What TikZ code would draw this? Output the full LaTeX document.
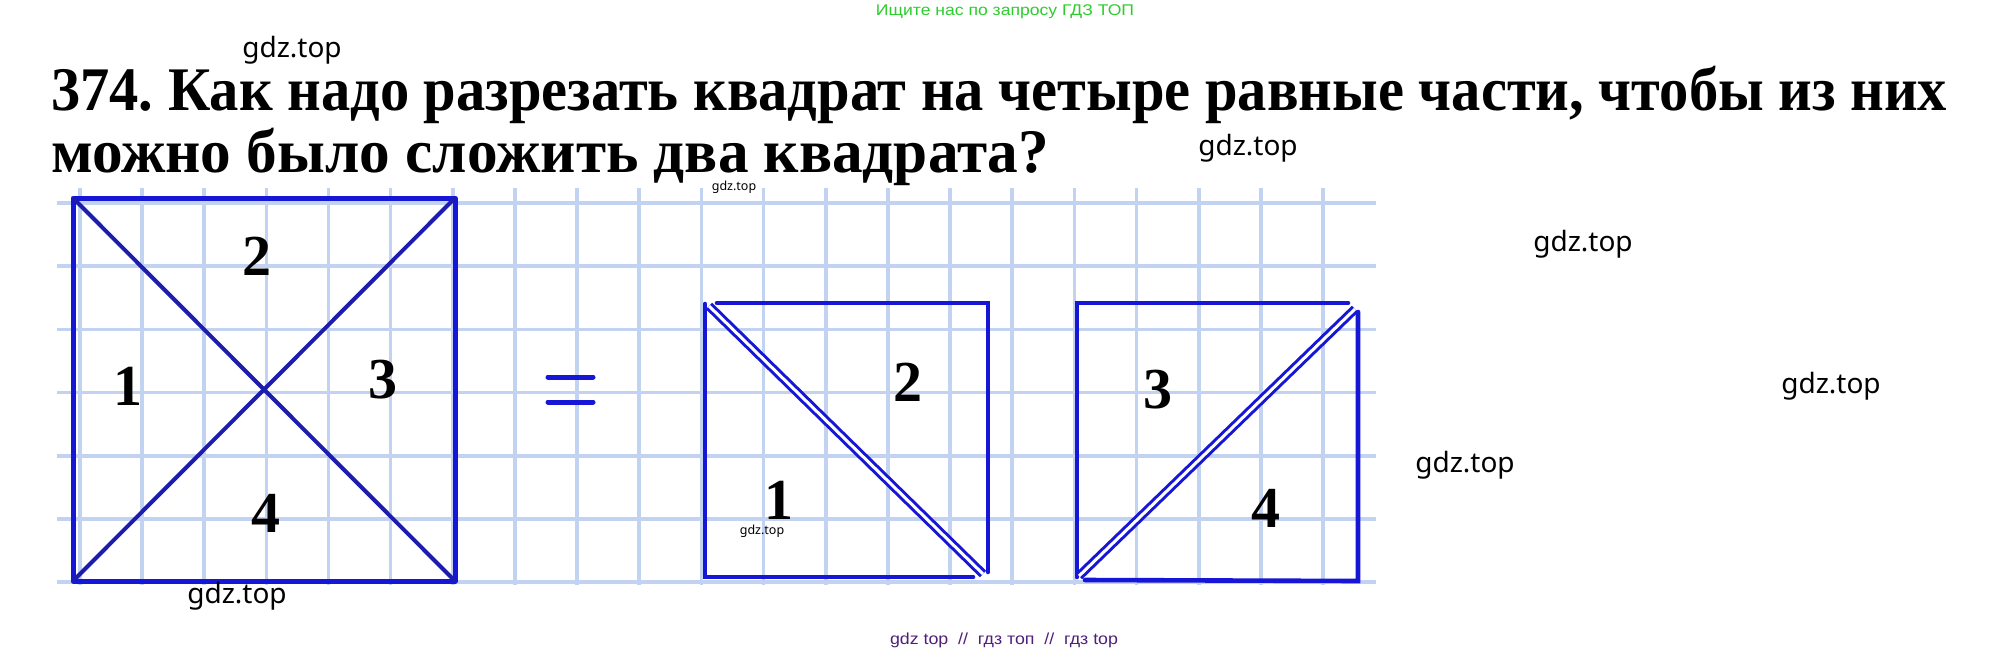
\documentclass[tikz,border=0pt]{standalone}
\usepackage{graphicx}
\usepackage{fontspec}
\setmainfont{Liberation Serif}
\newfontfamily\wmfont{Noto Sans}
\newfontfamily\adfont{Liberation Sans}
\frenchspacing

\definecolor{cellblue}{RGB}{194,211,242}
\definecolor{penblue}{RGB}{22,22,214}
\definecolor{inkblue}{RGB}{28,28,175}
\definecolor{adgreen}{RGB}{45,205,45}
\definecolor{adpurple}{RGB}{78,32,122}

\tikzset{
  cell/.style={draw=cellblue,line width=3.6pt},
  side/.style={draw=penblue,line width=5pt,line cap=round,line join=round},
  edge/.style={draw=penblue,line width=4.6pt,line cap=round},
  cut/.style={draw=inkblue,line width=4pt},
  seam/.style={draw=penblue,line width=3pt,double=white,double distance=3pt},
  num/.style={font=\bfseries\fontsize{58}{58}\selectfont,inner sep=0pt},
  head/.style={font=\bfseries\fontsize{62}{62}\selectfont,inner sep=0pt,anchor=base west},
  wm/.style={font=\wmfont\fontsize{28}{28}\selectfont,inner sep=0pt},
  wmsmall/.style={font=\wmfont\fontsize{12.5}{12.5}\selectfont,inner sep=0pt},
}

\begin{document}
\begin{tikzpicture}[x=1pt,y=-1pt]
  \useasboundingbox (0,0) rectangle (2011,654);
  \fill[white] (0,0) rectangle (2011,654);

  % squared paper
  \foreach \i in {-1,...,19}
    \draw[cell] ({142+62.16*\i},188) -- ++(0,397);
  \foreach \j in {0,...,6}
    \draw[cell] (57,{203+63.2*\j}) -- (1376,{203+63.2*\j});

  % heading
  \node[head] (title1) at (51,110) {\resizebox{1896pt}{\height}{374. Как надо разрезать квадрат на четыре равные части, чтобы из них}};
  \node[head] (title2) at (51,172) {\resizebox{998pt}{\height}{можно было сложить два квадрата?}};
  \node[font=\adfont\fontsize{15.5}{15.5}\selectfont,text=adgreen,inner sep=0pt] (ad) at (1005,12) {\resizebox{258pt}{\height}{Ищите нас по запросу ГДЗ ТОП}};

  % the whole square
  \coordinate (a1) at (73,198);
  \coordinate (b1) at (455,198);
  \coordinate (c1) at (455,581);
  \coordinate (d1) at (73,581);
  \draw[side] (a1) rectangle (c1);
  \draw[cut] (a1) -- (c1);
  \draw[cut] (d1) -- (b1);
  \node[num] (p1) at (128,386) {1};
  \node[num] (p2) at (257,256) {2};
  \node[num] (p3) at (383,380) {3};
  \node[num] (p4) at (266,513) {4};

  % equals
  \coordinate (e1) at (548,377);
  \coordinate (e2) at (548,402);
  \draw[side] (e1) -- ++(45,0);
  \draw[side] (e2) -- ++(45,0);

  % first small square
  \coordinate (a2) at (705,304);
  \coordinate (b2) at (988,303);
  \coordinate (c2) at (988,572);
  \coordinate (d2) at (705,577);
  \draw[edge] (717,303) -- (b2) -- (c2);
  \draw[edge] (a2) -- (d2) -- (973,577);
  \draw[seam] (709,306) -- (983,574);
  \node[num] (q1) at (779,500) {1};
  \node[num] (q2) at (908,382) {2};

  % second small square
  \coordinate (a3) at (1077,303);
  \coordinate (b3) at (1348,303);
  \coordinate (c3) at (1358,312);
  \coordinate (d3) at (1077,577);
  \draw[edge] (d3) -- (a3) -- (b3);
  \draw[edge] (c3) -- (1358,581) -- (1085,580);
  \draw[seam] (1079,576) -- (1355,309);
  \node[num] (r3) at (1158,390) {3};
  \node[num] (r4) at (1266,508) {4};

  % watermarks
  \node[wm] (wm1) at (292,50) {gdz.top};
  \node[wm] (wm2) at (1248,148) {gdz.top};
  \node[wm] (wm3) at (1583,244) {gdz.top};
  \node[wm] (wm4) at (1831,386) {gdz.top};
  \node[wm] (wm5) at (1465,465) {gdz.top};
  \node[wm] (wm6) at (237,596) {gdz.top};
  \node[wmsmall] (wm7) at (734,187) {gdz.top};
  \node[wmsmall] (wm8) at (762,531) {gdz.top};
  \node[font=\adfont\fontsize{16}{16}\selectfont,text=adpurple,inner sep=0pt] (foot) at (1004,640) {\resizebox{228pt}{\height}{gdz top\ \ //\ \ гдз топ\ \ //\ \ гдз top}};
\end{tikzpicture}
\end{document}
